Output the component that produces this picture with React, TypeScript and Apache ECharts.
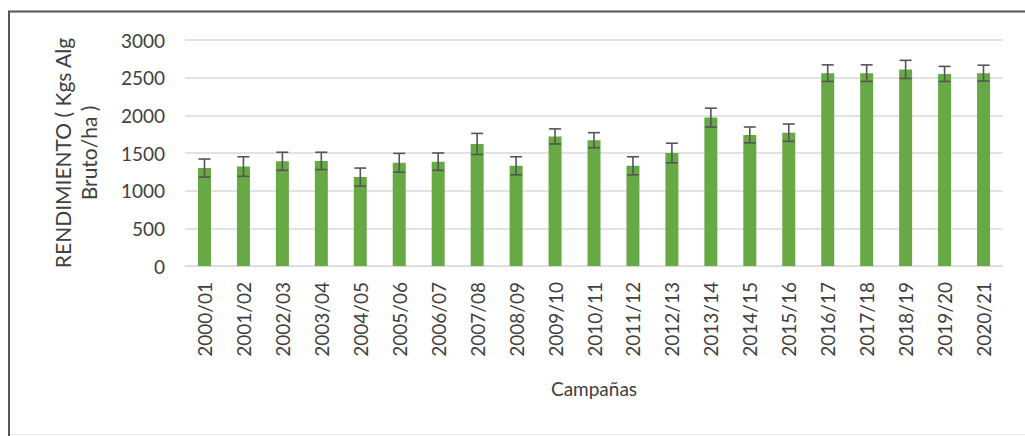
import React, { useEffect, useRef } from "react";
import * as echarts from "echarts";

const categories = [
  "2000/01", "2001/02", "2002/03", "2003/04", "2004/05", "2005/06", "2006/07",
  "2007/08", "2008/09", "2009/10", "2010/11", "2011/12", "2012/13", "2013/14",
  "2014/15", "2015/16", "2016/17", "2017/18", "2018/19", "2019/20", "2020/21",
];
const yields = [
  1300, 1320, 1390, 1395, 1180, 1370, 1385,
  1620, 1330, 1720, 1670, 1330, 1500, 1970,
  1740, 1770, 2560, 2560, 2610, 2550, 2560,
];
const errors = [
  120, 130, 120, 115, 120, 125, 115,
  140, 120, 100, 100, 120, 130, 125,
  105, 115, 110, 110, 120, 100, 105,
];
const yTicks = [0, 500, 1000, 1500, 2000, 2500, 3000];

const FONT = "Lato";

export default function App() {
  const ref = useRef<HTMLDivElement>(null);
  useEffect(() => {
    if (!ref.current) return;
    const chart = echarts.init(ref.current, null, { renderer: "svg" });
    const errData = categories.map((_, i) => [i, yields[i] - errors[i], yields[i] + errors[i]]);
    chart.setOption({
      animation: false,
      backgroundColor: "#ffffff",
      grid: { left: 185, right: 22, top: 40, bottom: 170 },
      xAxis: {
        type: "category",
        data: categories,
        name: "Campañas",
        nameLocation: "middle",
        nameGap: 113,
        nameMoveOverlap: false,
        nameTextStyle: { fontFamily: FONT, fontSize: 19, color: "#404040" },
        axisLine: { show: true, lineStyle: { color: "#d9d9d9", width: 1 } },
        axisTick: { show: false },
        axisLabel: {
          rotate: 90,
          margin: 16,
          fontFamily: FONT,
          fontSize: 19,
          color: "#404040",
          interval: 0,
        },
      },
      yAxis: {
        type: "value",
        min: yTicks[0],
        max: yTicks[yTicks.length - 1],
        interval: 500,
        name: "RENDIMIENTO ( Kgs Alg\nBruto/ha )",
        nameLocation: "middle",
        nameGap: 84,
        nameMoveOverlap: false,
        nameRotate: 90,
        nameTextStyle: { fontFamily: FONT, fontSize: 21, color: "#404040", lineHeight: 26, align: "center" },
        axisLine: { show: false },
        axisTick: { show: false },
        splitLine: { show: true, lineStyle: { color: "#d9d9d9", width: 1.5 } },
        axisLabel: {
          margin: 20,
          fontFamily: FONT,
          fontSize: 19,
          color: "#404040",
          formatter: (v: number) => String(v),
        },
      },
      series: [
        {
          type: "bar",
          data: yields,
          barWidth: 13,
          itemStyle: { color: "#67aa45" },
        },
        {
          type: "custom",
          data: errData,
          z: 10,
          renderItem: (params: any, api: any) => {
            const x = api.value(0);
            const lo = api.coord([x, api.value(1)]);
            const hi = api.coord([x, api.value(2)]);
            const hw = 6;
            const style = { stroke: "#555555", lineWidth: 1.6 };
            return {
              type: "group",
              children: [
                { type: "line", shape: { x1: lo[0], y1: lo[1], x2: hi[0], y2: hi[1] }, style },
                { type: "line", shape: { x1: hi[0] - hw, y1: hi[1], x2: hi[0] + hw, y2: hi[1] }, style },
                { type: "line", shape: { x1: lo[0] - hw, y1: lo[1], x2: lo[0] + hw, y2: lo[1] }, style },
              ],
            };
          },
        },
      ],
      graphic: [
        { type: "line", shape: { x1: 9, y1: 11, x2: 9, y2: 436 }, style: { stroke: "#555555", lineWidth: 2 } },
        { type: "line", shape: { x1: 8, y1: 11.5, x2: 1025, y2: 11.5 }, style: { stroke: "#555555", lineWidth: 2 } },
        { type: "line", shape: { x1: 10, y1: 434.5, x2: 1025, y2: 434.5 }, style: { stroke: "#e6e6e6", lineWidth: 1 } },
      ],
    });
    return () => chart.dispose();
  }, []);
  return (
    <div
      ref={ref}
      style={{ position: "fixed", left: 0, top: 0, width: 1025, height: 436 }}
    />
  );
}
